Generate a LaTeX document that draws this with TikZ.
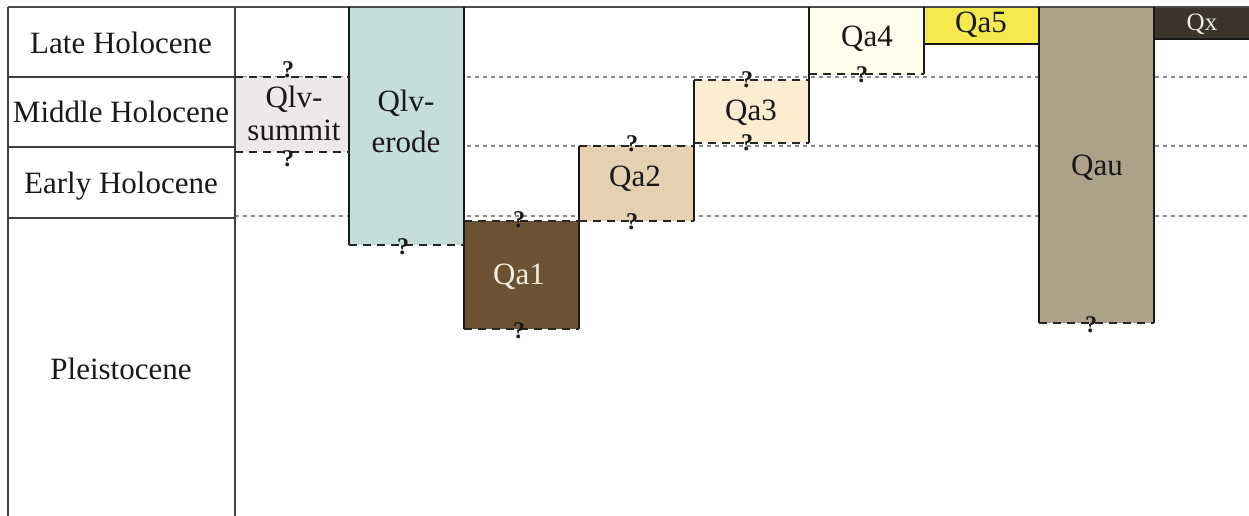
\documentclass[tikz,border=0pt]{standalone}
\usepackage{fontspec}
\setmainfont{Liberation Serif}
\tikzset{
  grid/.style={draw=black!75, line width=1.3pt},
  gdash/.style={draw=black!45, line width=1.3pt, dash pattern=on 4pt off 4pt},
  bsolid/.style={draw=black!90, line width=2pt},
  bdash/.style={draw=black!85, line width=2.8pt, dash pattern=on 8pt off 6pt},
  lbl/.style={font=\fontsize{31}{34}\selectfont, text=black!90, inner sep=0pt, anchor=base},
  qm/.style={font=\fontsize{24}{24}\selectfont\bfseries, text=black!90, inner sep=0pt},
}
\begin{document}
\begin{tikzpicture}[x=1pt,y=-1pt]
\useasboundingbox (0,0) rectangle (1249,516);
% grey dashed period lines
\draw[gdash] (235,77) -- (1249,77);
\draw[gdash] (235,146) -- (1249,146);
\draw[gdash] (235,216) -- (1249,216);
% fills
\fill[fill={rgb,255:red,238;green,232;blue,232}] (235,77) rectangle (349,152);
\fill[fill={rgb,255:red,197;green,222;blue,218}] (349,7) rectangle (464,245);
\fill[fill={rgb,255:red,106;green,82;blue,50}] (464,221) rectangle (579,329);
\fill[fill={rgb,255:red,229;green,209;blue,177}] (579,146) rectangle (694,221);
\fill[fill={rgb,255:red,252;green,237;blue,208}] (694,80) rectangle (809,143);
\fill[fill={rgb,255:red,255;green,253;blue,235}] (809,7) rectangle (924,74);
\fill[fill={rgb,255:red,245;green,233;blue,79}] (924,7) rectangle (1039,44);
\fill[fill={rgb,255:red,173;green,161;blue,138}] (1039,7) rectangle (1154,323);
\fill[fill={rgb,255:red,59;green,52;blue,44}] (1154,7) rectangle (1249,39);
% table
\draw[grid] (8,7) -- (8,516);
\draw[grid] (235,7) -- (235,516);
\draw[grid] (8,77) -- (235,77);
\draw[grid] (8,147) -- (235,147);
\draw[grid] (8,218) -- (235,218);
\draw[draw=black!70, line width=2pt] (8,7) -- (1249,7);
% solid box sides
\draw[bsolid] (349,7) -- (349,245);
\draw[bsolid] (464,7) -- (464,329);
\draw[bsolid] (579,146) -- (579,329);
\draw[bsolid] (694,80) -- (694,221);
\draw[bsolid] (809,7) -- (809,143);
\draw[bsolid] (924,7) -- (924,74);
\draw[bsolid] (924,44) -- (1039,44);
\draw[bsolid] (1039,7) -- (1039,323);
\draw[bsolid] (1154,7) -- (1154,323);
\draw[bsolid] (1154,39) -- (1249,39);
% dashed box edges
\draw[bdash] (235,77) -- (349,77);
\draw[bdash] (235,152) -- (349,152);
\draw[bdash] (349,245) -- (464,245);
\draw[bdash] (464,221) -- (579,221);
\draw[bdash] (464,329) -- (579,329);
\draw[bdash] (579,146) -- (694,146);
\draw[bdash] (579,221) -- (694,221);
\draw[bdash] (694,80) -- (809,80);
\draw[bdash] (694,143) -- (809,143);
\draw[bdash] (809,74) -- (924,74);
\draw[bdash] (1039,323) -- (1154,323);
% question marks
\node[qm] (q1) at (288,70) {?};
\node[qm] (q2) at (288,159) {?};
\node[qm] (q3) at (403,247) {?};
\node[qm] (q4) at (519,220) {?};
\node[qm] (q5) at (519,331) {?};
\node[qm] (q6) at (632,144) {?};
\node[qm] (q7) at (632,222) {?};
\node[qm] (q8) at (747,80) {?};
\node[qm] (q9) at (747,143) {?};
\node[qm] (q10) at (862,75) {?};
\node[qm] (q11) at (1091,325) {?};
% period labels
\node[lbl] (late) at (121,54) {Late Holocene};
\node[lbl] (mid) at (121,122) {Middle Holocene};
\node[lbl] (early) at (121,193) {Early Holocene};
\node[lbl] (pleis) at (121,379) {Pleistocene};
% unit labels
\node[lbl] (summit1) at (294,108) {Qlv-};
\node[lbl] (summit2) at (294,140) {summit};
\node[lbl] (erode1) at (406,112) {Qlv-};
\node[lbl] (erode2) at (406,152) {erode};
\node[lbl, text={rgb,255:red,245;green,238;blue,222}] (qa1) at (519,284) {Qa1};
\node[lbl] (qa2) at (635,186) {Qa2};
\node[lbl] (qa3) at (751,121) {Qa3};
\node[lbl] (qa4) at (867,47) {Qa4};
\node[lbl] (qa5) at (981,33) {Qa5};
\node[lbl] (qau) at (1097,175) {Qau};
\node[lbl, font=\fontsize{25}{27}\selectfont, text=black!8] (qx) at (1202,31) {Qx};
\end{tikzpicture}
\end{document}
